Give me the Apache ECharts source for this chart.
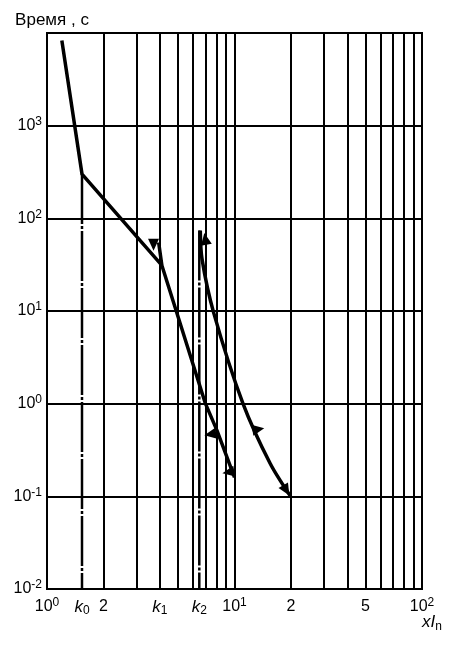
<!DOCTYPE html>
<html>
<head>
<meta charset="utf-8">
<script src="https://cdn.jsdelivr.net/npm/echarts@6/dist/echarts.min.js"></script>
<style>
    html, body { margin: 0; padding: 0; background: #fff; }
    #chart { width: 450px; height: 646px; }
</style>
</head>
<body>
<div id="chart"></div>
<script>
// grid values (multiples of In / seconds)
var xGrid = [1, 2, 3, 4, 5, 6, 7, 8, 9, 10, 20, 30, 40, 50, 60, 70, 80, 90, 100];
var yGrid = [0.01, 0.1, 1, 10, 100, 1000, 10000];
var yLabelValues = [0.01, 0.1, 1, 10, 100, 1000];

var k0 = 1.537, k1 = 4, k2 = 6.49;
var xLabelValues = [1, k0, 2, k1, k2, 10, 20, 50, 100];
var xLabelTexts = [
    '{b|10}{sup|0}', '{k|k}{sub|0}', '{b|2}', '{k|k}{sub|1}', '{k|k}{sub|2}',
    '{b|10}{sup|1}', '{b|2}', '{b|5}', '{b|10}{sup|2}'
];

// curves
var upperCurve = [[1.2, 8300], [k0, 300], [4.1, 31]];
var curve1 = [[3.94, 55], [4.1, 31], [4.89, 10], [7.0, 1], [8.06, 0.515], [10, 0.16]];
var curve2 = [[6.57, 74], [6.71, 36.5], [7.74, 9.6], [11.1, 1], [15.5, 0.226], [19.9, 0.1]];
var k0Line = [[k0, 300], [k0, 0.01]];
var k2Line = [[k2, 74], [k2, 0.01]];
var barbs = [[3.7, 52], [7.43, 0.467], [9.27, 0.182], [6.99, 60], [13.4, 0.53], [18.9, 0.116]];
var barbAngles = [180, 100, 100, 10, -80, 211];

var rich = {
    b: { fontSize: 16, lineHeight: 20, color: '#000' },
    sup: { fontSize: 12, lineHeight: 12, verticalAlign: 'top', color: '#000' },
    k: { fontSize: 17, lineHeight: 20, fontStyle: 'italic', color: '#000' },
    sub: { fontSize: 12, lineHeight: 12, verticalAlign: 'bottom', color: '#000' },
    i: { fontSize: 17, lineHeight: 20, fontStyle: 'italic', color: '#000' }
};

var chart = echarts.init(document.getElementById('chart'));

var thick = { color: '#000', width: 2 };

chart.setOption({
    animation: false,
    backgroundColor: '#fff',
    textStyle: { fontFamily: 'Liberation Sans', color: '#000' },
    grid: {
        left: 47, right: 28, top: 33, bottom: 57,
        containLabel: false,
        outerBoundsMode: 'none',
        show: true, borderColor: '#000', borderWidth: 2
    },
    graphic: [{
        type: 'text',
        left: 422, top: 614,
        style: {
            text: '{i|xI}{sub|n}',
            rich: rich,
            fontFamily: 'Liberation Sans'
        }
    }],
    xAxis: {
        type: 'log', logBase: 10, min: 1, max: 100,
        axisLine: { show: true, lineStyle: thick },
        axisTick: { show: false, customValues: xGrid },
        splitLine: { show: true, lineStyle: thick },
        axisLabel: {
            customValues: xLabelValues,
            margin: 8,
            rich: rich,
            formatter: function (v) {
                for (var i = 0; i < xLabelValues.length; i++) {
                    if (Math.abs(xLabelValues[i] - v) < 1e-6) return xLabelTexts[i];
                }
                return '';
            }
        }
    },
    yAxis: {
        type: 'log', logBase: 10, min: 0.01, max: 10000,
        name: 'Время , с',
        nameLocation: 'end',
        nameGap: 4,
        nameTextStyle: { fontSize: 17, color: '#000', align: 'center', padding: [0, 0, 0, 10] },
        axisLine: { show: true, lineStyle: thick },
        axisTick: { show: false, customValues: yGrid },
        splitLine: { show: true, lineStyle: thick },
        axisLabel: {
            customValues: yLabelValues,
            margin: 5,
            rich: rich,
            formatter: function (v) {
                return '{b|10}{sup|' + Math.round(Math.log10(v)) + '}';
            }
        }
    },
    series: [
        {
            type: 'line', data: k0Line, symbol: 'none',
            lineStyle: { color: '#000', width: 2.5, type: [50, 2, 3, 2] }
        },
        {
            type: 'line', data: k2Line, symbol: 'none',
            lineStyle: { color: '#000', width: 2.5, type: [50, 2, 3, 2] }
        },
        {
            type: 'line', data: upperCurve, symbol: 'none',
            lineStyle: { color: '#000', width: 3.5 }
        },
        {
            type: 'line', data: curve1, symbol: 'none',
            lineStyle: { color: '#000', width: 3.5 }
        },
        {
            type: 'line', data: curve2, symbol: 'none', smooth: 0.3,
            lineStyle: { color: '#000', width: 3.5 }
        },
        {
            type: 'scatter',
            symbol: 'triangle',
            symbolSize: [11, 12],
            itemStyle: { color: '#000', opacity: 1 },
            z: 5,
            data: barbs.map(function (p, i) {
                return { value: p, symbolRotate: barbAngles[i] };
            })
        }
    ]
});
</script>
</body>
</html>
